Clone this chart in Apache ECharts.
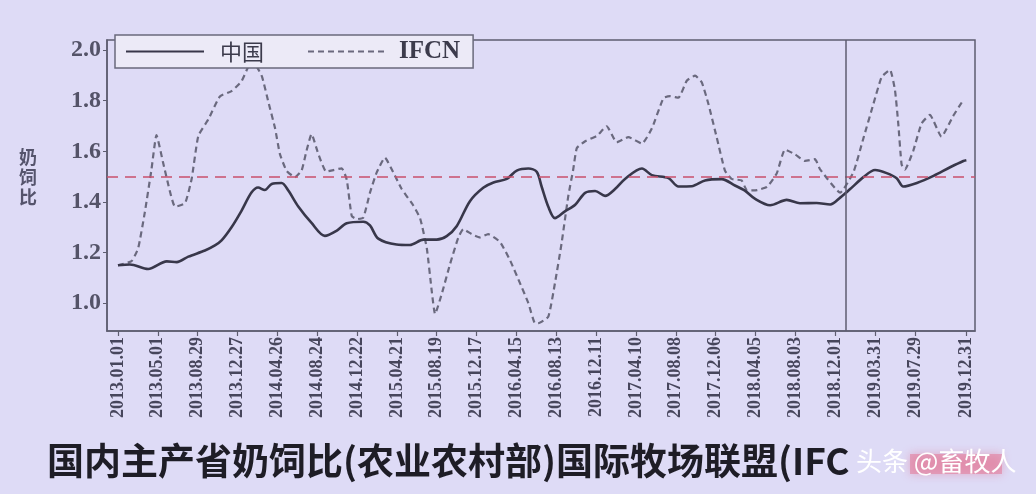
<!DOCTYPE html>
<html>
<head>
<meta charset="utf-8">
<script src="https://cdn.jsdelivr.net/npm/echarts@6/dist/echarts.min.js"></script>
<style>
html,body{margin:0;padding:0;background:#dedbf6;}
#chart{width:1036px;height:494px;}
</style>
</head>
<body>
<div id="chart"></div>
<script>
// ---- data ----
const chinaDates = ['2013-01-01','2013-02-06','2013-04-02','2013-05-28','2013-06-27','2013-08-01','2013-09-20','2013-10-20','2013-11-09','2013-12-09',
 '2014-01-08','2014-02-07','2014-02-27','2014-03-19','2014-04-09','2014-05-09','2014-05-29','2014-06-28','2014-08-07','2014-09-16','2014-10-21','2014-11-21',
 '2015-01-10','2015-01-30','2015-02-24','2015-04-20','2015-05-30','2015-07-10','2015-08-19','2015-09-18','2015-10-18','2015-11-27',
 '2016-01-06','2016-02-06','2016-03-17','2016-04-16','2016-05-21','2016-06-15','2016-06-30','2016-07-20','2016-08-09','2016-09-08','2016-10-09','2016-11-08','2016-12-08',
 '2017-01-07','2017-02-06','2017-03-08','2017-04-28','2017-05-28','2017-07-17','2017-08-16','2017-09-25','2017-11-04','2017-12-24',
 '2018-02-02','2018-03-04','2018-04-04','2018-05-19','2018-07-08','2018-08-17','2018-10-06','2018-11-16','2018-12-16',
 '2019-01-15','2019-02-24','2019-03-31','2019-05-05','2019-06-04','2019-06-24','2019-08-04','2019-09-23','2019-11-12','2019-12-22','2019-12-31'];
const chinaValues = [1.150,1.153,1.135,1.165,1.162,1.184,1.208,1.228,1.248,1.300,
 1.365,1.437,1.457,1.447,1.471,1.475,1.445,1.382,1.317,1.266,1.286,1.316,
 1.322,1.307,1.255,1.232,1.230,1.251,1.251,1.265,1.304,1.403,
 1.456,1.477,1.491,1.524,1.532,1.519,1.460,1.381,1.336,1.363,1.389,1.436,1.443,
 1.424,1.451,1.491,1.532,1.506,1.494,1.461,1.462,1.485,1.490,
 1.465,1.445,1.412,1.387,1.408,1.395,1.396,1.390,1.417,
 1.451,1.498,1.526,1.514,1.494,1.461,1.475,1.503,1.537,1.562,1.565];

const ifcnDates = ['2013-01-01','2013-02-11','2013-03-03','2013-03-23','2013-04-12','2013-04-27','2013-05-17','2013-06-07','2013-06-22','2013-07-22','2013-08-11','2013-08-31','2013-09-30','2013-11-04','2013-12-09',
 '2014-01-08','2014-02-09','2014-03-10','2014-03-30','2014-04-19','2014-05-04','2014-05-24','2014-06-18','2014-07-08','2014-07-23','2014-08-07','2014-08-27','2014-09-20','2014-10-12','2014-11-06','2014-11-21','2014-12-06','2014-12-21',
 '2015-01-10','2015-01-30','2015-02-19','2015-03-16','2015-04-10','2015-05-05','2015-06-09','2015-06-30','2015-07-20','2015-08-04','2015-08-14','2015-09-03','2015-09-28','2015-10-23','2015-11-07','2015-12-02','2015-12-27',
 '2016-01-21','2016-02-26','2016-03-27','2016-04-26','2016-05-21','2016-06-10','2016-06-20','2016-07-20','2016-08-09','2016-08-29','2016-09-18','2016-10-03','2016-10-14','2016-11-08','2016-12-13',
 '2017-01-12','2017-02-11','2017-03-18','2017-04-28','2017-05-28','2017-07-02','2017-07-22','2017-08-16','2017-09-10','2017-10-05','2017-10-25','2017-11-14','2017-12-09',
 '2018-01-03','2018-01-23','2018-02-22','2018-03-11','2018-04-10','2018-05-10','2018-06-08','2018-07-03','2018-08-02','2018-09-01','2018-10-01','2018-10-16','2018-12-16',
 '2019-01-25','2019-02-24','2019-03-26','2019-04-20','2019-05-15','2019-05-30','2019-06-09','2019-06-19','2019-06-29','2019-07-24','2019-08-18','2019-09-12','2019-10-17','2019-11-21','2019-12-17'];
const ifcnValues = [1.150,1.166,1.218,1.360,1.529,1.664,1.555,1.439,1.381,1.395,1.492,1.661,1.726,1.817,1.838,
 1.877,1.960,1.898,1.795,1.692,1.588,1.523,1.498,1.524,1.603,1.668,1.591,1.520,1.526,1.533,1.488,1.345,1.332,
 1.339,1.437,1.516,1.575,1.517,1.452,1.387,1.335,1.218,1.048,0.957,1.036,1.154,1.259,1.292,1.273,1.260,
 1.273,1.241,1.169,1.078,1.000,0.921,0.921,0.947,1.079,1.237,1.422,1.528,1.613,1.640,1.661,
 1.699,1.636,1.656,1.631,1.691,1.811,1.818,1.812,1.879,1.899,1.873,1.788,1.656,
 1.524,1.491,1.485,1.445,1.447,1.460,1.513,1.607,1.588,1.562,1.569,1.530,1.437,
 1.518,1.652,1.787,1.894,1.922,1.842,1.708,1.548,1.528,1.602,1.710,1.744,1.658,1.739,1.793];

const xTickLabels = ['2013.01.01','2013.05.01','2013.08.29','2013.12.27','2014.04.26','2014.08.24','2014.12.22','2015.04.21','2015.08.19','2015.12.17',
 '2016.04.15','2016.08.13','2016.12.11','2017.04.10','2017.08.08','2017.12.06','2018.04.05','2018.08.03','2018.12.01','2019.03.31','2019.07.29','2019.12.31'];
const yTickValues = [1.0, 1.2, 1.4, 1.6, 1.8, 2.0];
const refLevel = 1.5;
const splitDate = '2019-01-01';
const xRange = ['2012-11-29', '2020-01-26'];
const seriesNames = ['中国', 'IFCN'];
const titleText = '国内主产省奶饲比(农业农村部)国际牧场联盟(IFC';
const watermark = '头条 @畜牧人';

// ---- build ----
function toTs(s){ const p = s.split(/[.-]/).map(Number); return Date.UTC(p[0], p[1]-1, p[2]); }
function pad(n){ return (n<10?'0':'') + n; }
function fmt(v){ const d = new Date(Math.round(v)); return d.getUTCFullYear() + '.' + pad(d.getUTCMonth()+1) + '.' + pad(d.getUTCDate()); }
const xTicks = xTickLabels.map(toTs);
const chinaData = chinaDates.map((d,i)=>[toTs(d), chinaValues[i]]);
const ifcnData = ifcnDates.map((d,i)=>[toTs(d), ifcnValues[i]]);

const chart = echarts.init(document.getElementById('chart'), null, {renderer:'canvas'});
chart.setOption({
  backgroundColor: '#dedbf6',
  animation: false,
  grid: { left: 107, right: 61, top: 40, bottom: 163, show: true, borderColor: '#5e5d70', borderWidth: 1.5, backgroundColor: 'transparent' },
  legend: {
    left: 115, top: 35, orient: 'horizontal',
    backgroundColor: '#eceaf7', borderColor: '#6a6a7c', borderWidth: 1.5, borderRadius: 0,
    padding: [4, 13, 4, 10], itemGap: 43, itemWidth: 78, itemHeight: 14,
    itemStyle: { opacity: 0 },
    data: [
      { name: seriesNames[0], textStyle: { fontFamily: 'Noto Sans CJK SC', fontSize: 22, color: '#3c3b4c', padding: [0, 12, 0, 11] } },
      { name: seriesNames[1], textStyle: { fontFamily: 'Liberation Serif', fontWeight: 'bold', fontSize: 25, color: '#3c3b4c', padding: [0, 6, 0, 8] } }
    ]
  },
  xAxis: {
    type: 'value',
    min: toTs(xRange[0]), max: toTs(xRange[1]),
    splitLine: { show: false },
    axisLine: { show: true, lineStyle: { color: '#5e5d70', width: 1.5 } },
    axisTick: { show: true, customValues: xTicks, length: 5, lineStyle: { color: '#5e5d70', width: 1.2 } },
    axisLabel: {
      customValues: xTicks, rotate: 90, margin: 6,
      fontFamily: 'Liberation Serif', fontSize: 18, fontWeight: 'bold', color: '#47465c',
      formatter: fmt
    }
  },
  yAxis: {
    type: 'value', min: 0.89, max: 2.04,
    splitLine: { show: false },
    axisLine: { show: true, lineStyle: { color: '#5e5d70', width: 1.5 } },
    axisTick: { show: true, customValues: yTickValues, length: 4, lineStyle: { color: '#5e5d70' } },
    axisLabel: {
      customValues: yTickValues, margin: 6,
      fontFamily: 'Liberation Serif', fontSize: 24, fontWeight: 'bold', color: '#545368',
      formatter: function(v){ return Number(v).toFixed(1); }
    }
  },
  series: [
    {
      name: seriesNames[0], type: 'line', data: chinaData, showSymbol: false, symbol: 'none', smooth: 0.3,
      lineStyle: { color: '#38374a', width: 2.6 }, itemStyle: { color: '#38374a' }, z: 3,
      markLine: {
        silent: true, symbol: 'none', label: { show: false },
        data: [
          { yAxis: refLevel, lineStyle: { color: '#c9506c', type: [11, 7], width: 1.5 } },
          { xAxis: toTs(splitDate), lineStyle: { color: '#5e5d70', type: 'solid', width: 1.5 } }
        ]
      }
    },
    {
      name: seriesNames[1], type: 'line', data: ifcnData, showSymbol: false, symbol: 'none', smooth: 0.15,
      lineStyle: { color: '#6a697e', width: 2.2, type: [6, 4] }, itemStyle: { color: '#6a697e' }, z: 2
    }
  ],
  graphic: [
    { type: 'text', left: 19, top: 147, style: { text: '奶\n饲\n比', font: 'bold 18px "Noto Sans CJK SC"', fill: '#55546c', lineHeight: 20 } },
    { type: 'text', left: 47, top: 442, style: { text: titleText, font: 'bold 37px "Noto Sans CJK SC"', fill: '#1e1d26' } },
    { type: 'rect', shape: { x: 910, y: 454, width: 92, height: 20 }, style: { fill: 'rgba(226,120,152,0.55)', shadowBlur: 10, shadowColor: 'rgba(226,120,152,0.9)' } },
    { type: 'text', left: 856, top: 448, z: 10, style: { text: watermark, font: '26px "Noto Sans CJK SC"', fill: '#ffffff', shadowColor: 'rgba(0,0,0,0.9)', shadowBlur: 3, shadowOffsetX: 1, shadowOffsetY: 1 } }
  ]
});
</script>
</body>
</html>
